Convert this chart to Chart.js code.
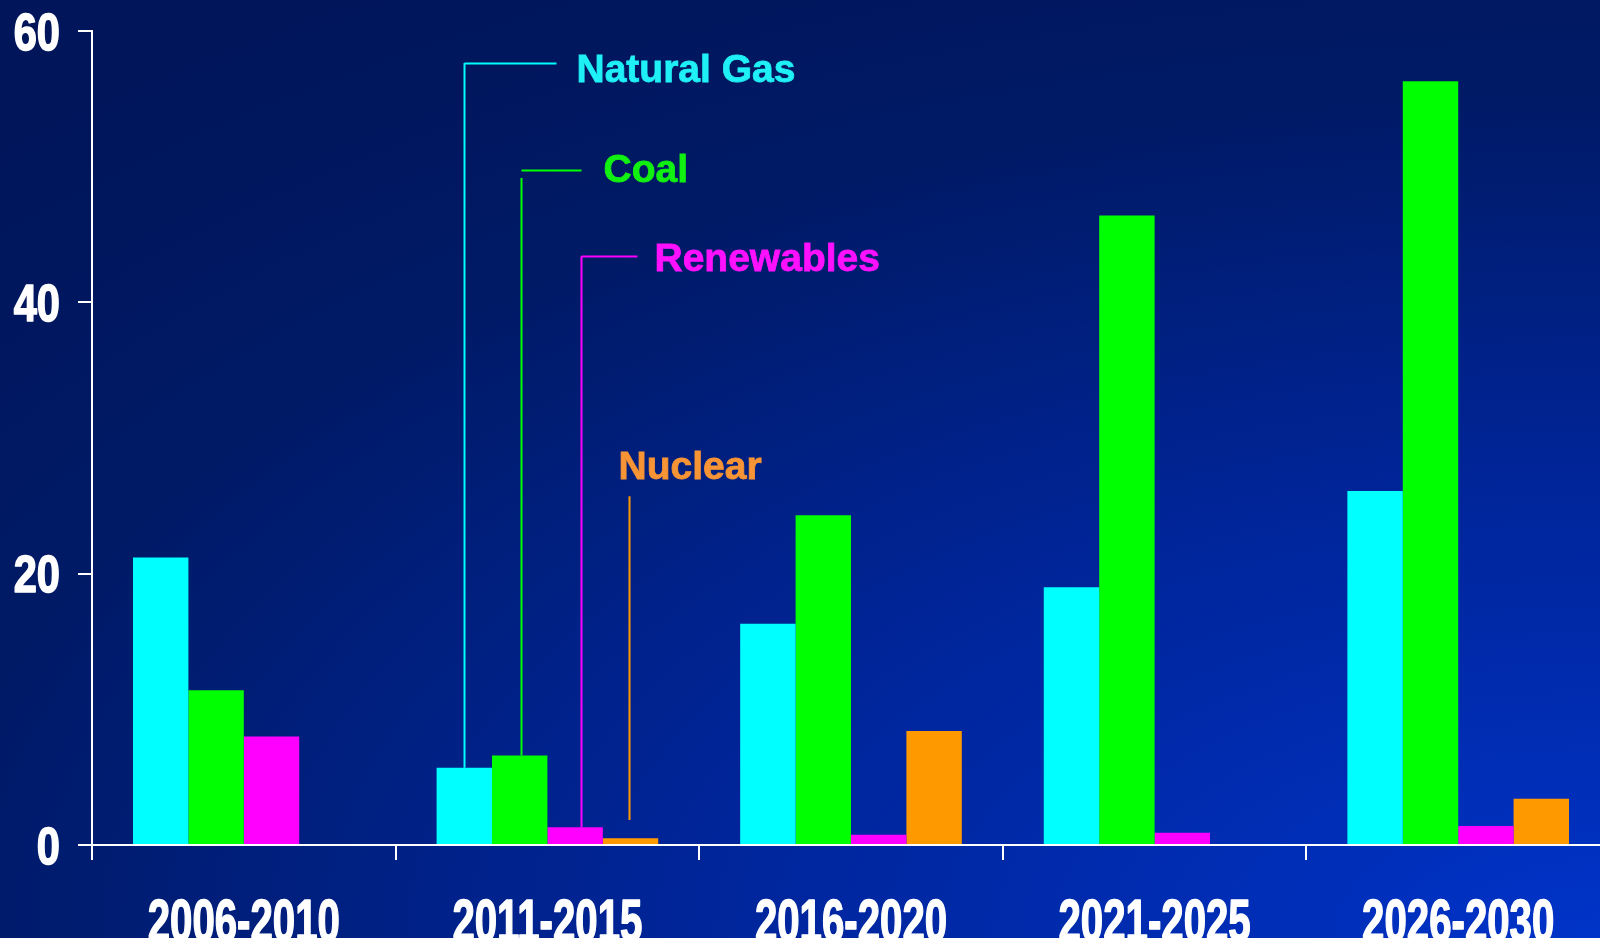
<!DOCTYPE html>
<html>
<head>
<meta charset="utf-8">
<script src="https://cdn.jsdelivr.net/npm/chart.js@4.4.1/dist/chart.umd.min.js"></script>
<style>
  html, body {
    margin: 0;
    padding: 0;
    width: 1600px;
    height: 938px;
    overflow: hidden;
    background: radial-gradient(ellipse 140% 120% at 100% 100%, #0033c8 0%, #00259a 40%, #001a66 75%, #00155a 100%);
  }
  #wrap {
    position: absolute;
    left: 0;
    top: 0;
    width: 1610px;
    height: 938px;
  }
</style>
</head>
<body>
<div id="wrap"><canvas id="grafico"></canvas></div>
<script>
var periodos = ["2006-2010", "2011-2015", "2016-2020", "2021-2025", "2026-2030"];
var gasNatural = [21.2, 5.7, 16.3, 19.0, 26.1];
var carbon = [11.4, 6.6, 24.3, 46.4, 56.3];
var renovables = [8.0, 1.3, 0.75, 0.9, 1.4];
var nuclear = [0, 0.5, 8.4, 0, 3.4];
var ticksY = [0, 20, 40, 60];

var nombres = ["Natural Gas", "Coal", "Renewables", "Nuclear"];
var colores = ["#00ffff", "#00ff00", "#ff00ff", "#ff9900"];
var coloresTexto = ["#1ff0f5", "#11f011", "#ff11ff", "#f79435"];

// textos de los ejes en letra estrecha (no hay Arial Narrow, se comprime la Liberation Sans)
function textoEstrecho(ctx, texto, x, y, escala) {
  ctx.save();
  ctx.translate(x, y);
  ctx.scale(escala, 1);
  ctx.fillText(texto, 0, 0);
  ctx.strokeText(texto, 0, 0);
  ctx.restore();
}

var textosEjes = {
  id: "textosEjes",
  afterDraw: function (chart) {
    var ctx = chart.ctx;
    var xs = chart.scales.x;
    var ys = chart.scales.y;
    ctx.save();
    ctx.fillStyle = "#ffffff";
    ctx.strokeStyle = "#ffffff";
    ctx.lineWidth = 1.6;
    ctx.lineJoin = "round";
    ctx.textBaseline = "alphabetic";

    ctx.font = "bold 52px 'Liberation Sans', Arial, sans-serif";
    ctx.textAlign = "right";
    ticksY.forEach(function (v) {
      textoEstrecho(ctx, String(v), ys.right - 32, ys.getPixelForValue(v) + 18.5, 0.8);
    });

    ctx.font = "bold 60px 'Liberation Sans', Arial, sans-serif";
    ctx.textAlign = "center";
    periodos.forEach(function (p, i) {
      textoEstrecho(ctx, p, xs.getPixelForValue(i), xs.top + 96, 0.67);
    });
    ctx.restore();
  }
};

// etiquetas con lineas guia, apuntando a las barras de 2011-2015
var guias = {
  id: "guias",
  afterDatasetsDraw: function (chart, args, opts) {
    var ctx = chart.ctx;
    var y = chart.scales.y;
    ctx.save();
    ctx.lineWidth = 2;
    ctx.font = "bold 39px 'Liberation Sans', Arial, sans-serif";
    ctx.textBaseline = "alphabetic";
    ctx.textAlign = "left";
    opts.items.forEach(function (g, i) {
      var barra = chart.getDatasetMeta(i).data[opts.indice];
      var x = Math.round(barra.x + g.dx) + 0.5;
      var yAbajo = g.abajo == null ? barra.y : y.getPixelForValue(g.abajo);
      var yArriba = y.getPixelForValue(g.arriba);
      ctx.strokeStyle = colores[i];
      ctx.lineWidth = 2;
      ctx.beginPath();
      ctx.moveTo(x, yAbajo);
      ctx.lineTo(x, yArriba);
      ctx.stroke();
      if (g.brazo > 0) {
        var yb = Math.round(y.getPixelForValue(g.brazoY)) + 0.5;
        ctx.beginPath();
        ctx.moveTo(x, yb);
        ctx.lineTo(x + g.brazo, yb);
        ctx.stroke();
      }
      ctx.fillStyle = coloresTexto[i];
      ctx.strokeStyle = coloresTexto[i];
      ctx.lineWidth = 0.8;
      ctx.fillText(nombres[i], x + g.textoDx, y.getPixelForValue(g.textoY) + 14);
      ctx.strokeText(nombres[i], x + g.textoDx, y.getPixelForValue(g.textoY) + 14);
    });
    ctx.restore();
  }
};

var datos = {
  labels: periodos,
  datasets: [
    { label: nombres[0], data: gasNatural, backgroundColor: colores[0] },
    { label: nombres[1], data: carbon, backgroundColor: colores[1] },
    { label: nombres[2], data: renovables, backgroundColor: colores[2] },
    { label: nombres[3], data: nuclear, backgroundColor: colores[3] }
  ]
};

var config = {
  type: "bar",
  data: datos,
  options: {
    responsive: true,
    maintainAspectRatio: false,
    animation: false,
    datasets: {
      bar: { barPercentage: 1, categoryPercentage: 0.73, borderWidth: 0 }
    },
    layout: { padding: { left: 78, top: 31, right: 0, bottom: 78 } },
    plugins: {
      legend: { display: false },
      tooltip: { enabled: false },
      guias: {
        indice: 1,
        items: [
          { dx: 0, abajo: null, arriba: 57.64, brazo: 92, brazoY: 57.64, textoDx: 112, textoY: 57.27 },
          { dx: 1, abajo: null, arriba: 49.16, brazo: 60, brazoY: 49.75, textoDx: 82, textoY: 49.9 },
          { dx: 6, abajo: null, arriba: 43.4, brazo: 56, brazoY: 43.4, textoDx: 73, textoY: 43.34 },
          { dx: -2, abajo: 1.84, arriba: 25.7, brazo: 0, brazoY: 0, textoDx: -11, textoY: 28.0 }
        ]
      }
    },
    scales: {
      x: {
        grid: { drawOnChartArea: false, drawTicks: true, tickLength: 15, color: "#ffffff", lineWidth: 2, offset: true },
        border: { color: "#ffffff", width: 2 },
        ticks: { display: false }
      },
      y: {
        min: 0,
        max: 60,
        afterBuildTicks: function (axis) {
          axis.ticks = ticksY.map(function (v) { return { value: v }; });
        },
        grid: { drawOnChartArea: false, drawTicks: true, tickLength: 14, color: "#ffffff", lineWidth: 2 },
        border: { color: "#ffffff", width: 2 },
        ticks: { display: false }
      }
    }
  },
  plugins: [guias, textosEjes]
};

var grafico = new Chart(document.getElementById("grafico"), config);
</script>
</body>
</html>
